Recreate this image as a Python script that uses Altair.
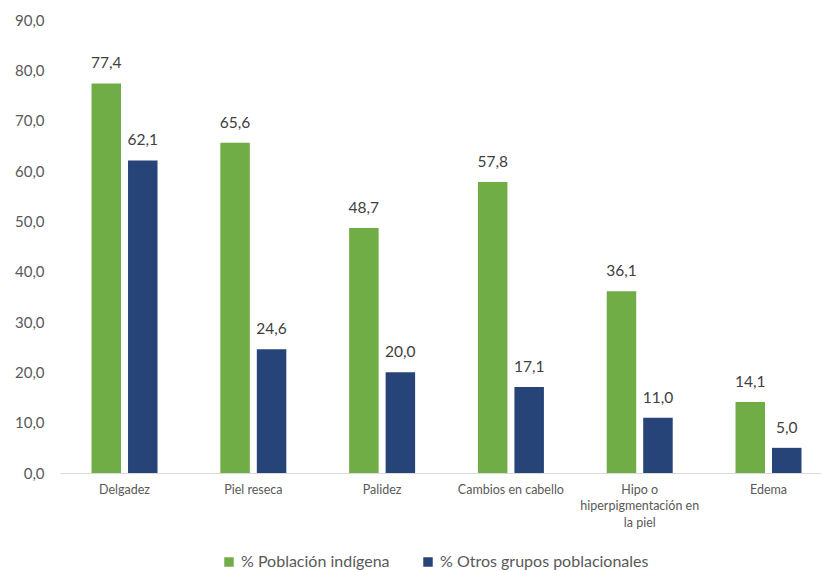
import altair as alt
import pandas as pd

categories = ["Delgadez", "Piel reseca", "Palidez", "Cambios en cabello",
              "Hipo o hiperpigmentación en la piel", "Edema"]
series = ["% Población indígena", "% Otros grupos poblacionales"]
indigena = [77.4, 65.6, 48.7, 57.8, 36.1, 14.1]
otros = [62.1, 24.6, 20.0, 17.1, 11.0, 5.0]
colors = ["#70AD47", "#264478"]

rows = []
for c, a, b in zip(categories, indigena, otros):
    rows.append({"cat": c, "serie": series[0], "valor": a})
    rows.append({"cat": c, "serie": series[1], "valor": b})
df = pd.DataFrame(rows)

FONT = "Lato"

x = alt.X("cat:N", sort=categories, title=None,
          scale=alt.Scale(paddingInner=0.4876, paddingOuter=0.198, align=0.618),
          axis=alt.Axis(labelAngle=0, ticks=False, domainColor="#D9D9D9",
                        domainWidth=1, labelPadding=10, labelFont=FONT,
                        labelFontSize=12.5, labelColor="#595959", labelLineHeight=16.5,
                        labelExpr="datum.label == 'Hipo o hiperpigmentación en la piel' ? ['Hipo o', 'hiperpigmentación en', 'la piel'] : datum.label"))
xo = alt.XOffset("serie:N", sort=series,
                 scale=alt.Scale(paddingInner=0.192, paddingOuter=0))
y = alt.Y("valor:Q", title=None,
          scale=alt.Scale(domain=[0, 90], nice=False),
          axis=alt.Axis(values=list(range(0, 91, 10)), grid=False, ticks=False,
                        domain=False, labelPadding=16, labelFont=FONT,
                        labelFontSize=15, labelColor="#595959",
                        labelExpr="replace(format(datum.value, '.1f'), '.', ',')"))

base = alt.Chart(df)
bars = base.mark_bar().encode(
    x=x, xOffset=xo, y=y,
    color=alt.Color("serie:N", sort=series,
                    scale=alt.Scale(domain=series, range=colors),
                    legend=alt.Legend(title=None, orient="none", direction="horizontal",
                                      legendX=161, legendY=534, symbolType="square",
                                      symbolSize=90, symbolStrokeWidth=0,
                                      labelFont=FONT, labelFontSize=16,
                                      labelColor="#595959", columnPadding=30,
                                      labelLimit=400,
                                      symbolOffset=0, labelOffset=4)),
)
labels = base.transform_calculate(
    lbl="replace(format(datum.valor, '.1f'), '.', ',')"
).mark_text(baseline="bottom", dy=-12, font=FONT, fontSize=15.5,
            color="#404040").encode(
    x=x, xOffset=xo, y=y, text="lbl:N")

chart = (bars + labels).properties(
    width=761, height=453,
    autosize=alt.AutoSizeParams(type="none"),
    padding={"left": 60, "top": 20, "right": 0, "bottom": 97},
).configure_view(stroke=None)

chart.save("out.html", embed_options={"renderer": "svg", "actions": False})
